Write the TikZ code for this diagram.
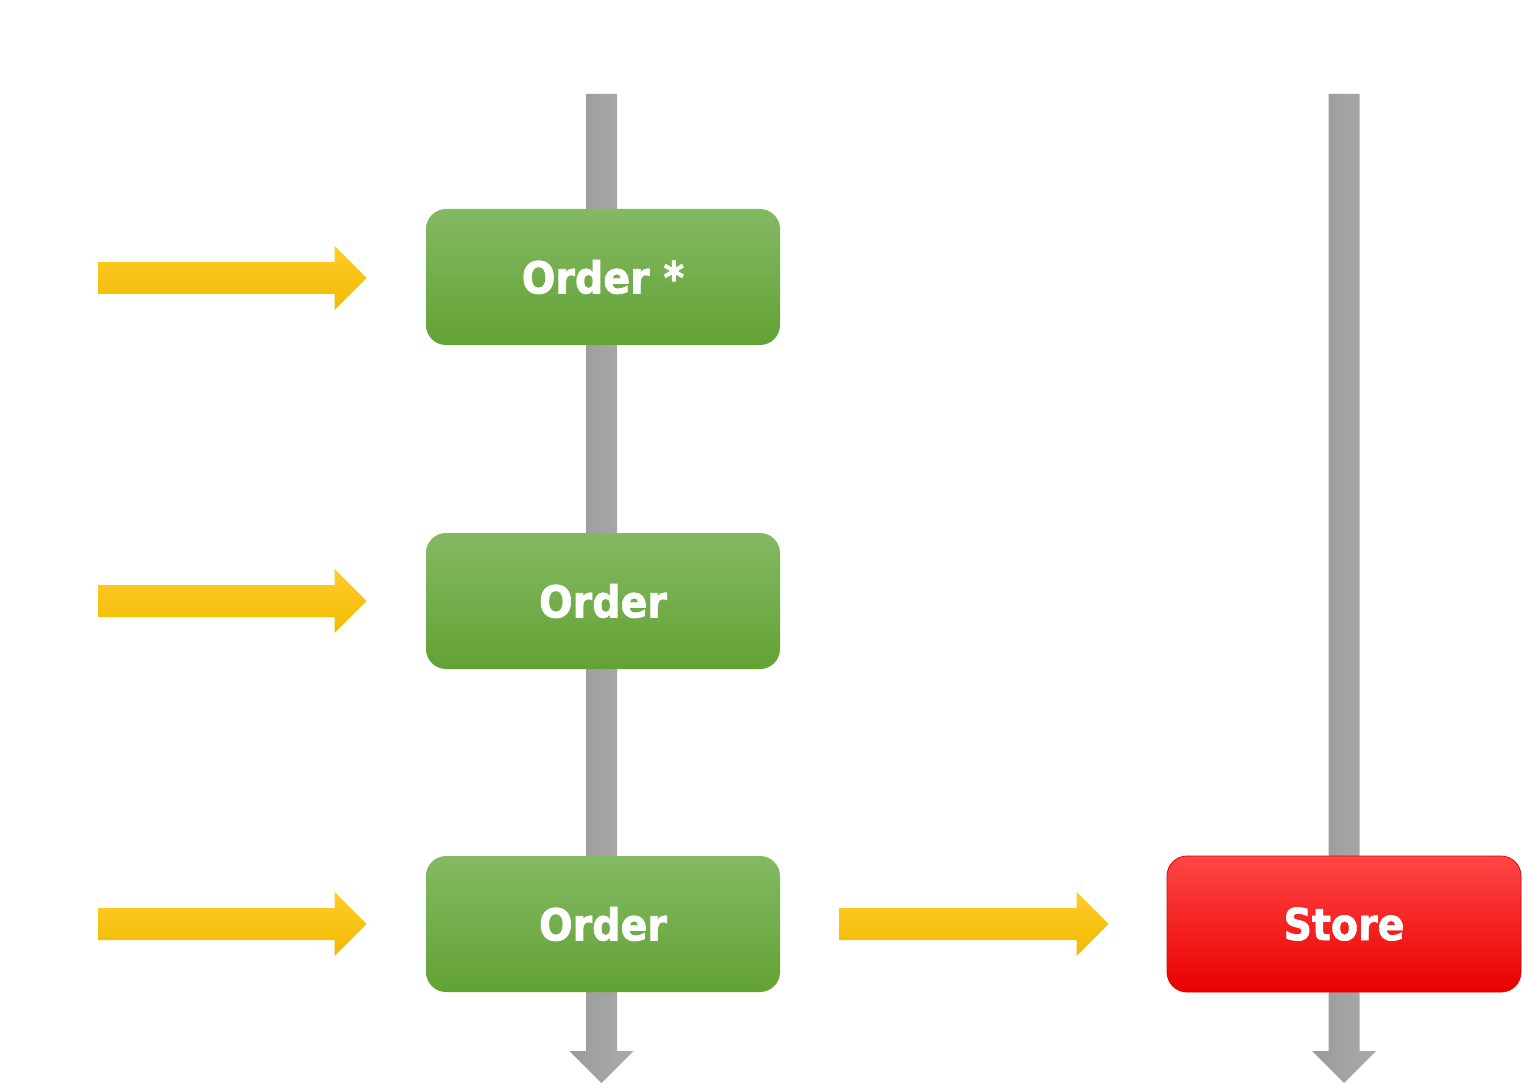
\documentclass[tikz,border=0pt]{standalone}
\usepackage{fontspec}
\setmainfont{DejaVu Sans}
\newfontfamily\heavy{DejaVu Sans Bold}[FakeBold=1.6]
\usetikzlibrary{calc,backgrounds}
\definecolor{gTop}{HTML}{84B964}
\definecolor{gMid}{HTML}{70B142}
\definecolor{gBot}{HTML}{62A233}
\definecolor{rTop}{HTML}{FF4646}
\definecolor{rMid}{HTML}{FF0000}
\definecolor{rBot}{HTML}{EA0000}
\definecolor{yTop}{HTML}{FFCC2A}
\definecolor{yMid}{HTML}{FCC400}
\definecolor{yBot}{HTML}{F2BA00}
\definecolor{gyL}{HTML}{9A9A9A}
\definecolor{gyR}{HTML}{ABABAB}
\tikzset{
  box/.style={rounded corners=15pt, minimum width=265.5pt, minimum height=102pt,
    inner sep=0pt, text=white, font=\heavy\fontsize{33}{36}\selectfont},
  greenbox/.style={box, top color=gTop, middle color=gMid, bottom color=gBot},
  redbox/.style={box, top color=rTop, middle color=rMid, bottom color=rBot, draw=rBot, line width=0.6pt},
  yellowfill/.style={top color=yTop, middle color=yMid, bottom color=yBot},
  grayfill/.style={left color=gyL, right color=gyR},
}
% horizontal fat arrow: #1 start, #2 tip
\newcommand\hfat[2]{%
  \shade[yellowfill] ($(#1)+(0,-16)$) -- ($(#2)+(-32,-16)$) -- ($(#2)+(-32,-32)$) -- (#2)
    -- ($(#2)+(-32,32)$) -- ($(#2)+(-32,16)$) -- ($(#1)+(0,16)$) -- cycle;}
% vertical fat arrow (downwards): #1 start, #2 tip
\newcommand\vfat[2]{%
  \shade[grayfill] ($(#1)+(-15.5,0)$) -- ($(#2)+(-15.5,-32)$) -- ($(#2)+(-32,-32)$) -- (#2)
    -- ($(#2)+(32,-32)$) -- ($(#2)+(15.5,-32)$) -- ($(#1)+(15.5,0)$) -- cycle;}
\newcommand\narrow[1]{\scalebox{0.9}[1]{#1}}
\begin{document}
\begin{tikzpicture}[x=0.75pt,y=-0.75pt]
\useasboundingbox (0,0) rectangle (1522,1084);
\node[greenbox] (b1) at (603,277) {\narrow{Order *}};
\node[greenbox] (b2) at (603,601) {\narrow{Order}};
\node[greenbox] (b3) at (603,924) {\narrow{Order}};
\node[redbox] (st) at (1344,924) {\narrow{Store}};
\coordinate (t1) at (601.5,94);
\coordinate (e1) at (601.5,1083);
\coordinate (t2) at (1344,94);
\coordinate (e2) at (1344,1083);
\begin{scope}[on background layer]
  \vfat{t1}{e1}
  \vfat{t2}{e2}
\end{scope}
\coordinate (s1) at (98,278);
\coordinate (s2) at (98,601);
\coordinate (s3) at (98,924);
\hfat{s1}{$(b1.west)+(-59,1)$}
\hfat{s2}{$(b2.west)+(-59,0)$}
\hfat{s3}{$(b3.west)+(-59,0)$}
\coordinate (s4) at ($(b3.east)+(59,0)$);
\hfat{s4}{$(st.west)+(-58,0)$}
\end{tikzpicture}
\end{document}
